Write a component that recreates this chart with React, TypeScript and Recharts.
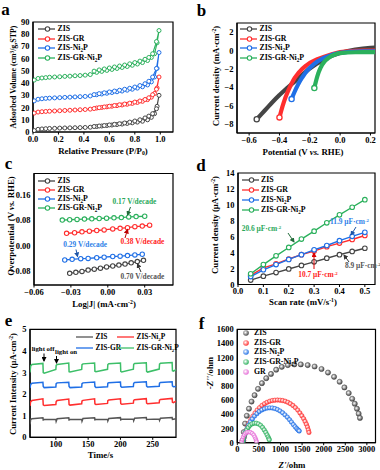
import React from "react";
import { XAxis, YAxis, ReferenceArea, ReferenceLine, ScatterChart, Scatter } from "recharts";

const SERIF = '"Liberation Serif", "Times New Roman", serif';
const GRAY = "#454545";
const RED = "#ff2e2e";
const BLUE = "#1f6fe6";
const GREEN = "#2bb05c";
const PINK = "#e56bd6";

// (a) N2 adsorption / desorption
const P_ADS = [0.01, 0.04, 0.07, 0.1, 0.13, 0.17, 0.21, 0.25, 0.29, 0.33, 0.37, 0.41, 0.45, 0.5, 0.54, 0.58, 0.62, 0.66, 0.7, 0.74, 0.78, 0.82, 0.86, 0.9, 0.93, 0.955, 0.975, 0.99];
const P_DES = [0.97, 0.94, 0.91, 0.88, 0.84, 0.8, 0.76, 0.72, 0.68, 0.64, 0.6, 0.56, 0.52, 0.48];
const ISO_ZIS_ADS = [1.2, 2.2, 2.5, 2.7, 2.9, 3.0, 3.2, 3.3, 3.4, 3.5, 3.6, 3.7, 3.9, 4.5, 4.9, 5.3, 5.7, 6.1, 6.5, 7.0, 7.5, 8.1, 8.8, 10.0, 12.0, 15.0, 21.0, 30.0];
const ISO_ZIS_DES = [19.0, 15.0, 13.0, 11.5, 10.0, 9.0, 8.1, 7.4, 6.8, 6.3, 5.8, 5.3, 4.9, 4.5];
const ISO_GR_ADS = [15.5, 16.3, 16.6, 16.8, 17.0, 17.2, 17.4, 17.6, 17.8, 18.0, 18.2, 18.4, 18.7, 19.6, 20.1, 20.6, 21.1, 21.6, 22.1, 22.7, 23.4, 24.2, 25.1, 26.5, 28.5, 31.5, 36.0, 45.0];
const ISO_GR_DES = [35.0, 30.5, 28.0, 26.6, 25.4, 24.5, 23.6, 22.9, 22.3, 21.7, 21.1, 20.5, 19.9, 19.2];
const ISO_NI_ADS = [25.5, 26.8, 27.2, 27.5, 27.7, 27.9, 28.1, 28.3, 28.5, 28.7, 28.9, 29.1, 29.5, 30.5, 31.1, 31.7, 32.3, 32.9, 33.5, 34.2, 35.0, 35.9, 37.0, 38.5, 41.0, 45.0, 52.0, 65.0];
const ISO_NI_DES = [52.0, 45.0, 41.5, 39.5, 38.0, 36.8, 35.8, 35.0, 34.2, 33.5, 32.8, 32.1, 31.4, 30.6];
const ISO_GN_ADS = [42.5, 43.8, 44.2, 44.5, 44.8, 45.0, 45.2, 45.5, 45.7, 46.0, 46.2, 46.5, 47.0, 48.8, 49.6, 50.4, 51.2, 52.0, 52.8, 53.6, 54.6, 55.6, 56.8, 58.5, 61.0, 64.0, 73.0, 83.0];
const ISO_GN_DES = [74.0, 64.0, 61.0, 59.5, 58.0, 56.8, 55.8, 54.8, 54.0, 53.2, 52.4, 51.6, 50.8, 49.8];

// (b) LSV
const LSV_ZIS_E = [-0.55, -0.525, -0.5, -0.475, -0.45, -0.425, -0.4, -0.375, -0.35, -0.325, -0.3, -0.25, -0.2, -0.15, -0.1, -0.05, 0, 0.05, 0.1, 0.15, 0.2, 0.23];
const LSV_ZIS_J = [-7.5, -7.05, -6.6, -6.15, -5.7, -5.27, -4.85, -4.47, -4.1, -3.75, -3.4, -2.65, -1.96, -1.4, -0.9, -0.55, -0.27, -0.05, 0.1, 0.2, 0.28, 0.32];
const LSV_GR_E = [-0.4, -0.39, -0.38, -0.37, -0.36, -0.35, -0.34, -0.33, -0.32, -0.31, -0.3, -0.275, -0.25, -0.225, -0.2, -0.15, -0.1, -0.05, 0, 0.05, 0.1, 0.15, 0.23];
const LSV_GR_J = [-7.3, -6.68, -6.1, -5.58, -5.1, -4.68, -4.3, -3.94, -3.6, -3.29, -3.0, -2.45, -2.0, -1.65, -1.35, -0.95, -0.65, -0.38, -0.18, -0.08, -0.04, -0.02, 0];
const LSV_NI_E = [-0.32, -0.31, -0.3, -0.29, -0.28, -0.27, -0.26, -0.25, -0.24, -0.23, -0.22, -0.21, -0.2, -0.175, -0.15, -0.125, -0.1, -0.05, 0, 0.05, 0.1, 0.15, 0.23];
const LSV_NI_J = [-5.3, -4.88, -4.5, -4.14, -3.8, -3.49, -3.2, -2.94, -2.7, -2.47, -2.25, -2.07, -1.9, -1.52, -1.2, -0.95, -0.75, -0.45, -0.25, -0.16, -0.12, -0.1, -0.1];
const LSV_GN_E = [-0.17, -0.165, -0.16, -0.155, -0.15, -0.145, -0.14, -0.13, -0.12, -0.11, -0.1, -0.09, -0.08, -0.065, -0.05, -0.02, 0, 0.05, 0.1, 0.15, 0.23];
const LSV_GN_J = [-4.1, -3.73, -3.4, -3.09, -2.8, -2.54, -2.3, -1.92, -1.6, -1.36, -1.15, -0.99, -0.85, -0.68, -0.55, -0.35, -0.28, -0.22, -0.19, -0.18, -0.17];

// (c) Tafel
const TAF_ZIS_X = [-0.031, -0.026, -0.021, -0.016, -0.011, -0.006, -0.001, 0.004, 0.009, 0.014, 0.019, 0.024, 0.029];
const TAF_ZIS_Y = [-0.087, -0.084, -0.081, -0.077, -0.074, -0.071, -0.067, -0.064, -0.061, -0.058, -0.054, -0.05, -0.046];
const TAF_GR_X = [-0.0335, -0.027, -0.021, -0.015, -0.009, -0.003, 0.004, 0.01, 0.016, 0.022, 0.028, 0.034];
const TAF_GR_Y = [0.039, 0.041, 0.044, 0.046, 0.048, 0.05, 0.053, 0.055, 0.057, 0.06, 0.062, 0.065];
const TAF_NI_X = [-0.035, -0.029, -0.022, -0.016, -0.009, -0.003, 0.004, 0.01, 0.016, 0.022, 0.028];
const TAF_NI_Y = [-0.045, -0.043, -0.041, -0.04, -0.038, -0.036, -0.034, -0.033, -0.031, -0.029, -0.027];
const TAF_GN_X = [-0.037, -0.031, -0.025, -0.019, -0.013, -0.007, -0.001, 0.005, 0.011, 0.017, 0.023, 0.03];
const TAF_GN_Y = [0.081, 0.082, 0.083, 0.084, 0.085, 0.086, 0.087, 0.088, 0.089, 0.091, 0.092, 0.093];

// (d) double-layer capacitance
const SCAN = [0.05, 0.1, 0.15, 0.2, 0.25, 0.3, 0.35, 0.4, 0.45, 0.5];
const CDL_ZIS = [0.55, 1.05, 1.5, 1.95, 2.4, 2.85, 3.3, 3.75, 4.15, 4.55];
const CDL_GR = [1.15, 2.1, 2.6, 3.2, 3.75, 4.2, 4.75, 5.2, 5.65, 6.15];
const CDL_NI = [1.0, 1.85, 2.5, 3.15, 3.75, 4.35, 4.9, 5.5, 6.05, 6.55];
const CDL_GN = [1.35, 2.5, 3.6, 4.65, 5.7, 6.7, 7.75, 8.75, 9.7, 10.65];

// (e) transient photocurrent
const T_S = [60, 61, 63, 80, 80.5, 82, 100, 100.5, 102, 120, 120.5, 122, 140, 140.5, 142, 160, 160.5, 162, 180, 180.5, 182, 200, 200.5, 202, 220, 220.5, 222, 240, 240.5, 242, 260, 260.5, 262, 280, 280.5, 282, 286];
const PC_ZIS = [0.6, 0.82, 0.86, 0.9, 0.8, 0.82, 0.83, 0.74, 0.86, 0.9, 0.8, 0.82, 0.83, 0.75, 0.87, 0.9, 0.81, 0.82, 0.84, 0.76, 0.87, 0.91, 0.81, 0.83, 0.84, 0.77, 0.88, 0.92, 0.82, 0.83, 0.85, 0.78, 0.88, 0.92, 0.83, 0.84, 0.86];
const PC_NI = [1.45, 1.65, 1.7, 1.78, 1.5, 1.47, 1.52, 1.65, 1.7, 1.77, 1.52, 1.49, 1.55, 1.68, 1.71, 1.78, 1.55, 1.52, 1.57, 1.7, 1.73, 1.78, 1.56, 1.53, 1.58, 1.71, 1.74, 1.79, 1.58, 1.55, 1.6, 1.72, 1.75, 1.8, 1.62, 1.6, 1.67];
const PC_GR = [2.28, 2.45, 2.5, 2.55, 2.35, 2.3, 2.33, 2.48, 2.52, 2.55, 2.35, 2.3, 2.33, 2.48, 2.52, 2.56, 2.36, 2.31, 2.34, 2.5, 2.53, 2.56, 2.36, 2.32, 2.35, 2.5, 2.54, 2.57, 2.37, 2.33, 2.36, 2.51, 2.54, 2.57, 2.38, 2.34, 2.35];
const PC_GN = [3.0, 3.3, 3.37, 3.42, 3.0, 2.97, 3.14, 3.33, 3.37, 3.44, 3.04, 3.02, 3.14, 3.36, 3.4, 3.44, 3.06, 3.04, 3.15, 3.37, 3.41, 3.44, 3.05, 3.02, 3.15, 3.38, 3.42, 3.45, 3.05, 3.02, 3.16, 3.39, 3.43, 3.46, 3.08, 3.06, 3.13];

// (f) Nyquist
const EIS_ZIS_RE = [120, 150, 180, 220, 270, 330, 400, 480, 570, 670, 780, 900, 1030, 1170, 1320, 1470, 1630, 1790, 1950, 2100, 2240, 2370, 2480, 2580, 2660, 2720, 2770, 2810, 2840];
const EIS_ZIS_IM = [30, 150, 270, 380, 480, 580, 670, 760, 840, 910, 970, 1030, 1070, 1095, 1105, 1105, 1095, 1075, 1040, 990, 930, 860, 780, 700, 620, 550, 480, 410, 350];
const EIS_GR_RE = [150, 165, 185, 210, 240, 275, 315, 360, 410, 460, 515, 570, 630, 690, 750, 810, 870, 930, 990, 1050, 1110, 1170, 1230, 1290, 1345, 1400, 1450, 1495, 1535, 1570, 1600, 1625, 1645, 1660];
const EIS_GR_IM = [30, 80, 130, 180, 230, 280, 330, 375, 420, 460, 495, 525, 550, 570, 585, 595, 600, 602, 600, 595, 585, 570, 550, 525, 495, 460, 420, 380, 340, 300, 260, 220, 180, 145];
const EIS_NI_RE = [140, 155, 175, 200, 230, 265, 305, 350, 400, 455, 510, 570, 630, 690, 750, 810, 870, 930, 990, 1050, 1105, 1160, 1210, 1255, 1300, 1340, 1375, 1400, 1420, 1435];
const EIS_NI_IM = [25, 70, 115, 160, 205, 250, 295, 335, 375, 410, 440, 462, 478, 488, 492, 490, 482, 468, 448, 422, 392, 360, 325, 290, 255, 225, 200, 185, 172, 165];
const EIS_GN_RE = [130, 145, 165, 190, 220, 255, 295, 340, 390, 440, 490, 540, 585, 625, 660, 690, 715, 732, 742];
const EIS_GN_IM = [20, 60, 100, 140, 180, 215, 245, 265, 275, 275, 265, 245, 215, 180, 145, 110, 80, 55, 40];
const EIS_G_RE = [100, 115, 135, 160, 190, 225, 265, 305, 345, 380, 405, 425, 438, 445];
const EIS_G_IM = [10, 45, 80, 110, 132, 146, 150, 146, 132, 110, 82, 55, 30, 12];

// tick values
const TICK_A_Y = [0, 10, 20, 30, 40, 50, 60, 70, 80, 90];
const TICK_B_Y = [-8, -6, -4, -2, 0, 2];
const TICK_C_Y = [-0.08, 0, 0.08, 0.16];
const TICK_D_Y = [0, 2, 4, 6, 8, 10, 12, 14];
const TICK_E_Y = [0, 1, 2, 3, 4, 5];
const TICK_F_Y = [0, 200, 400, 600, 800, 1000, 1200, 1400, 1600];

const pairs = (xs: number[], ys: number[]) => xs.map((x, i) => ({ x, y: ys[i] }));

const tickFont = { fontSize: 8.5, fontFamily: SERIF, fontWeight: 700, fill: "#000" };
const ax = {
  axisLine: { stroke: "#000", strokeWidth: 1.2 },
  tickLine: { stroke: "#000", strokeWidth: 1 },
  tick: tickFont,
  tickSize: 2.5,
  tickMargin: 1,
  allowDataOverflow: true,
  interval: 0 as const,
  type: "number" as const,
};

const minus = (s: string) => s.replace("-", "\u2212");

// y-axis tick labels, placed by the y scale through reference lines
const yLabels = (ticks: number[], fmt: (v: number) => string = String) =>
  ticks.map((v) => (
    <ReferenceLine key={`yl${v}`} y={v} stroke="none" ifOverflow="visible" label={{ value: fmt(v), position: "left", offset: 3.5, ...tickFont }} />
  ));

const SUB: React.CSSProperties = { fontSize: "0.65em", verticalAlign: "-0.3em", lineHeight: 0 };
const SUP: React.CSSProperties = { fontSize: "0.65em", verticalAlign: "0.45em", lineHeight: 0 };
const Ni2P = () => (
  <>
    Ni<span style={SUB}>2</span>P
  </>
);

const Txt = ({ x, y, size = 8.6, color = "#000", rot = false, left = false, children }: any) => (
  <div
    style={{
      position: "absolute",
      left: x,
      top: y,
      transform: `translate(${left ? 0 : -50}%, -50%)${rot ? " rotate(-90deg)" : ""}`,
      fontFamily: SERIF,
      fontWeight: 700,
      fontSize: size,
      color,
      whiteSpace: "nowrap",
      lineHeight: 1,
    }}
  >
    {children}
  </div>
);

const LegLine = ({ x, y, color, dot = true, w = 17, size = 7.8, children }: any) => (
  <>
    <svg style={{ position: "absolute", left: x, top: y - 4 }} width={w} height={8}>
      <line x1={0} y1={4} x2={w} y2={4} stroke={color} strokeWidth={1.3} />
      {dot && <circle cx={w / 2 + 1} cy={4} r={2.2} fill="#fff" stroke={color} strokeWidth={1.1} />}
    </svg>
    <Txt x={x + w + 2.5} y={y} size={size} left>
      {children}
    </Txt>
  </>
);

const LegBall = ({ x, y, id, children }: any) => (
  <>
    <svg style={{ position: "absolute", left: x - 4, top: y - 4 }} width={8} height={8}>
      <circle cx={4} cy={4} r={2.8} fill={`url(#${id})`} />
    </svg>
    <Txt x={x + 8} y={y} size={7.8} left>
      {children}
    </Txt>
  </>
);

const Frame = ({ xd, yd }: { xd: number[]; yd: number[] }) => (
  <ReferenceArea x1={xd[0]} x2={xd[1]} y1={yd[0]} y2={yd[1]} fill="none" stroke="#000" strokeWidth={1.2} ifOverflow="visible" />
);

const at = (left: number, top: number, el: React.ReactNode) => (
  <div style={{ position: "absolute", left, top }}>{el}</div>
);

const hollow = (c: string, r: number, sw = 1) => (p: any) => <circle cx={p.cx} cy={p.cy} r={r} fill="#fff" stroke={c} strokeWidth={sw} />;
const none = () => <g />;

type S = { k: string; c: string; d: { x: number; y: number }[] };

function PanelA() {
  const xd = [0, 1.1];
  const yd = [0, 90];
  const loop = (ads: number[], des: number[]) => [...pairs(P_ADS, ads), ...pairs(P_DES, des)];
  const series: S[] = [
    { k: "zis", c: GRAY, d: loop(ISO_ZIS_ADS, ISO_ZIS_DES) },
    { k: "gr", c: RED, d: loop(ISO_GR_ADS, ISO_GR_DES) },
    { k: "ni", c: BLUE, d: loop(ISO_NI_ADS, ISO_NI_DES) },
    { k: "gn", c: GREEN, d: loop(ISO_GN_ADS, ISO_GN_DES) },
  ];
  return at(
    0,
    0,
    <ScatterChart width={180} height={160} margin={{ top: 22, right: 7, left: 0, bottom: 0 }}>
      <XAxis dataKey="x" domain={xd} ticks={[0, 0.2, 0.4, 0.6, 0.8, 1.0]} tickFormatter={(v: number) => v.toFixed(1)} height={28} {...ax} />
      <YAxis dataKey="y" domain={yd} ticks={TICK_A_Y} width={33} {...ax} tick={false} />
      <Frame xd={xd} yd={yd} />
      {yLabels(TICK_A_Y)}
      {series.map((s) => (
        <Scatter key={s.k} data={s.d} line={{ stroke: s.c, strokeWidth: 1.1 }} shape={hollow(s.c, 2)} isAnimationActive={false} />
      ))}
    </ScatterChart>
  );
}

function PanelB() {
  const xd = [-0.68, 0.23];
  const yd = [-9, 3];
  const series: S[] = [
    { k: "zis", c: GRAY, d: pairs(LSV_ZIS_E, LSV_ZIS_J) },
    { k: "gr", c: RED, d: pairs(LSV_GR_E, LSV_GR_J) },
    { k: "ni", c: BLUE, d: pairs(LSV_NI_E, LSV_NI_J) },
    { k: "gn", c: GREEN, d: pairs(LSV_GN_E, LSV_GN_J) },
  ];
  return at(
    190,
    0,
    <ScatterChart width={190} height={160} margin={{ top: 23, right: 5, left: 0, bottom: 0 }}>
      <XAxis dataKey="x" domain={xd} ticks={[-0.6, -0.4, -0.2, 0, 0.2]} tickFormatter={(v: number) => minus(v.toFixed(1))} height={27} {...ax} />
      <YAxis dataKey="y" domain={yd} ticks={TICK_B_Y} width={47} {...ax} tick={false} />
      <Frame xd={xd} yd={yd} />
      {yLabels(TICK_B_Y, (v) => minus(String(v)))}
      {series.map((s) => (
        <Scatter key={s.k} data={s.d} line={{ stroke: s.c, strokeWidth: 4.2, strokeLinejoin: "round", strokeLinecap: "round" }} shape={none} isAnimationActive={false} />
      ))}
      {series.map((s) => (
        <Scatter key={s.k + "-end"} data={s.d.slice(0, 1)} shape={hollow(s.c, 2.6, 1.3)} isAnimationActive={false} />
      ))}
    </ScatterChart>
  );
}

function PanelC() {
  const xd = [-0.06, 0.053];
  const yd = [-0.124, 0.228];
  const series: S[] = [
    { k: "zis", c: GRAY, d: pairs(TAF_ZIS_X, TAF_ZIS_Y) },
    { k: "gr", c: RED, d: pairs(TAF_GR_X, TAF_GR_Y) },
    { k: "ni", c: BLUE, d: pairs(TAF_NI_X, TAF_NI_Y) },
    { k: "gn", c: GREEN, d: pairs(TAF_GN_X, TAF_GN_Y) },
  ];
  return at(
    0,
    150,
    <ScatterChart width={180} height={160} margin={{ top: 23.5, right: 7, left: 0, bottom: 0 }}>
      <XAxis dataKey="x" domain={xd} ticks={[-0.06, -0.03, 0, 0.03]} tickFormatter={(v: number) => minus(v.toFixed(2))} height={25} {...ax} />
      <YAxis dataKey="y" domain={yd} ticks={TICK_C_Y} width={34} {...ax} tick={false} />
      <Frame xd={xd} yd={yd} />
      {yLabels(TICK_C_Y, (v) => minus(v.toFixed(2)))}
      {series.map((s) => (
        <Scatter key={s.k} data={s.d} line={{ stroke: s.c, strokeWidth: 1.3 }} shape={hollow(s.c, 2.2, 1.1)} isAnimationActive={false} />
      ))}
    </ScatterChart>
  );
}

function PanelD() {
  const xd = [0, 0.54];
  const yd = [0, 14];
  const series: S[] = [
    { k: "zis", c: GRAY, d: pairs(SCAN, CDL_ZIS) },
    { k: "gr", c: RED, d: pairs(SCAN, CDL_GR) },
    { k: "ni", c: BLUE, d: pairs(SCAN, CDL_NI) },
    { k: "gn", c: GREEN, d: pairs(SCAN, CDL_GN) },
  ];
  return at(
    190,
    150,
    <ScatterChart width={190} height={160} margin={{ top: 23, right: 5, left: 0, bottom: 0 }}>
      <XAxis dataKey="x" domain={xd} ticks={[0, 0.1, 0.2, 0.3, 0.4, 0.5]} tickFormatter={(v: number) => v.toFixed(1)} height={25.5} {...ax} />
      <YAxis dataKey="y" domain={yd} ticks={TICK_D_Y} width={48} {...ax} tick={false} />
      <Frame xd={xd} yd={yd} />
      {yLabels(TICK_D_Y)}
      {series.map((s) => (
        <Scatter key={s.k} data={s.d} line={{ stroke: s.c, strokeWidth: 1.4 }} shape={hollow(s.c, 2.3, 1.1)} isAnimationActive={false} />
      ))}
    </ScatterChart>
  );
}

function PanelE() {
  const xd = [60, 286];
  const yd = [0, 5];
  const series: S[] = [
    { k: "zis", c: "#555", d: pairs(T_S, PC_ZIS) },
    { k: "ni", c: RED, d: pairs(T_S, PC_NI) },
    { k: "gr", c: BLUE, d: pairs(T_S, PC_GR) },
    { k: "gn", c: "#3cbf68", d: pairs(T_S, PC_GN) },
  ];
  return at(
    0,
    310,
    <ScatterChart width={180} height={160} margin={{ top: 19.3, right: 4, left: 0, bottom: 0 }}>
      <XAxis dataKey="x" domain={xd} ticks={[100, 150, 200, 250]} height={32.7} {...ax} />
      <YAxis dataKey="y" domain={yd} ticks={TICK_E_Y} width={30} {...ax} tick={false} />
      <Frame xd={xd} yd={yd} />
      {yLabels(TICK_E_Y)}
      {series.map((s) => (
        <Scatter key={s.k} data={s.d} line={{ stroke: s.c, strokeWidth: 1.5 }} shape={none} isAnimationActive={false} />
      ))}
    </ScatterChart>
  );
}

function PanelF() {
  const xd = [0, 3200];
  const yd = [0, 1600];
  const series = [
    { k: "zis", c: GRAY, g: "gZis", r: 2.6, d: pairs(EIS_ZIS_RE, EIS_ZIS_IM) },
    { k: "gr", c: RED, g: "gGr", r: 2.2, d: pairs(EIS_GR_RE, EIS_GR_IM) },
    { k: "ni", c: BLUE, g: "gNi", r: 2.2, d: pairs(EIS_NI_RE, EIS_NI_IM) },
    { k: "gn", c: GREEN, g: "gGn", r: 2.2, d: pairs(EIS_GN_RE, EIS_GN_IM) },
    { k: "g", c: PINK, g: "gG", r: 2.0, d: pairs(EIS_G_RE, EIS_G_IM) },
  ];
  return at(
    190,
    310,
    <ScatterChart width={190} height={160} margin={{ top: 19.3, right: 4.5, left: 0, bottom: 0 }}>
      <XAxis dataKey="x" domain={xd} ticks={[0, 500, 1000, 1500, 2000, 2500, 3000]} height={27.3} {...ax} />
      <YAxis dataKey="y" domain={yd} ticks={TICK_F_Y} width={47.3} {...ax} tick={false} />
      <Frame xd={xd} yd={yd} />
      {yLabels(TICK_F_Y)}
      {series.map((s) => (
        <Scatter
          key={s.k}
          data={s.d}
          isAnimationActive={false}
          shape={(p: any) => <circle cx={p.cx} cy={p.cy} r={s.r} fill={`url(#${s.g})`} stroke={s.c} strokeWidth={0.5} />}
        />
      ))}
    </ScatterChart>
  );
}

// annotation arrows: [x1, y1, x2, y2, colour]
const ARROWS: [number, number, number, number, string][] = [
  [130.5, 207, 127.5, 215, "#226b3a"],
  [125, 238, 127.5, 229.5, "#b00"],
  [76, 249.5, 77.5, 256.5, "#1d55a8"],
  [141, 272, 137.5, 264, "#333"],
  [288, 233, 294, 242, "#226b3a"],
  [314, 269, 314, 253, "#d00"],
  [356, 227, 351, 235, "#1d55a8"],
  [349, 262, 344, 255, "#333"],
  [44, 353.5, 44, 361, "#000"],
  [56.5, 356, 56.5, 363, "#000"],
];

const ballGrad = (id: string, c: string) => (
  <radialGradient id={id} cx="40%" cy="40%" r="60%">
    <stop offset="0%" stopColor="#fff" />
    <stop offset="100%" stopColor={c} />
  </radialGradient>
);

export default function App() {
  const ann = 7.4;
  return (
    <div style={{ position: "absolute", left: 0, top: 0, width: 380, height: 470, background: "#fff", overflow: "hidden", fontFamily: SERIF }}>
      <svg width={0} height={0} style={{ position: "absolute" }}>
        <defs>
          {ballGrad("gZis", GRAY)}
          {ballGrad("gGr", RED)}
          {ballGrad("gNi", BLUE)}
          {ballGrad("gGn", GREEN)}
          {ballGrad("gG", PINK)}
        </defs>
      </svg>
      <PanelA />
      <PanelB />
      <PanelC />
      <PanelD />
      <PanelE />
      <PanelF />

      {/* panel letters */}
      <Txt x={5.5} y={9} size={17}>a</Txt>
      <Txt x={201.5} y={10} size={17}>b</Txt>
      <Txt x={8.5} y={163} size={17}>c</Txt>
      <Txt x={201} y={165} size={17}>d</Txt>
      <Txt x={8.5} y={319.5} size={17}>e</Txt>
      <Txt x={201.5} y={323} size={17}>f</Txt>

      {/* axis titles */}
      <Txt x={14} y={77} size={7.9} rot>Adsorbed Volume (cm<span style={SUP}>3</span>/g,STP)</Txt>
      <Txt x={103} y={150.5} size={8.8}>Relative Pressure (P/P<span style={SUB}>0</span>)</Txt>
      <Txt x={216} y={76} size={8.8} rot>Current density (mA·cm<span style={SUP}>-2</span>)</Txt>
      <Txt x={303} y={152} size={8.8}>Potential (V <i>vs.</i> RHE)</Txt>
      <Txt x={11} y={226} size={8.8} rot>Overpotential (V <i>vs.</i> RHE)</Txt>
      <Txt x={104} y={304} size={8.8}>Log|J| (mA·cm<span style={SUP}>-2</span>)</Txt>
      <Txt x={215} y={225} size={8.8} rot>Current density (μA·cm<span style={SUP}>-2</span>)</Txt>
      <Txt x={303} y={302} size={8.8}>Scan rate (mV/s<span style={SUP}>-1</span>)</Txt>
      <Txt x={12.5} y={384} size={8.6} rot>Current Intensity (μA·cm<span style={SUP}>-2</span>)</Txt>
      <Txt x={100.5} y={455} size={8.8}>Time/s</Txt>
      <Txt x={210} y={373} size={8.8} rot>-<i>Z''</i>/ohm</Txt>
      <Txt x={292} y={465} size={8.8}><i>Z'</i>/ohm</Txt>

      {/* legends */}
      <LegLine x={38} y={29} color={GRAY}>ZIS</LegLine>
      <LegLine x={38} y={38.7} color={RED}>ZIS-GR</LegLine>
      <LegLine x={38} y={48.3} color={BLUE}>ZIS-<Ni2P /></LegLine>
      <LegLine x={38} y={58.3} color={GREEN}>ZIS-GR-<Ni2P /></LegLine>

      <LegLine x={240} y={29} color={GRAY}>ZIS</LegLine>
      <LegLine x={240} y={38.5} color={RED}>ZIS-GR</LegLine>
      <LegLine x={240} y={48.3} color={BLUE}>ZIS-<Ni2P /></LegLine>
      <LegLine x={240} y={57.7} color={GREEN}>ZIS-GR-<Ni2P /></LegLine>

      <LegLine x={38} y={180.7} color={GRAY}>ZIS</LegLine>
      <LegLine x={38} y={189.5} color={RED}>ZIS-GR</LegLine>
      <LegLine x={38} y={199.3} color={BLUE}>ZIS-<Ni2P /></LegLine>
      <LegLine x={38} y={208.3} color={GREEN}>ZIS-GR-<Ni2P /></LegLine>

      <LegLine x={241.5} y={179.7} color={GRAY}>ZIS</LegLine>
      <LegLine x={241.5} y={189.7} color={RED}>ZIS-GR</LegLine>
      <LegLine x={241.5} y={199.7} color={BLUE}>ZIS-<Ni2P /></LegLine>
      <LegLine x={241.5} y={209.7} color={GREEN}>ZIS-GR-<Ni2P /></LegLine>

      <LegLine x={76} y={336.7} color="#555" dot={false} size={7.4}>ZIS</LegLine>
      <LegLine x={117} y={336.7} color={RED} dot={false} size={7.4}>ZIS-<Ni2P /></LegLine>
      <LegLine x={76} y={347.7} color={BLUE} dot={false} size={7.4}>ZIS-GR</LegLine>
      <LegLine x={117} y={347.7} color="#3cbf68" dot={false} size={7.4}>ZIS-GR-<Ni2P /></LegLine>

      <LegBall x={246} y={333.3} id="gZis">ZIS</LegBall>
      <LegBall x={246} y={342.7} id="gGr">ZIS-GR</LegBall>
      <LegBall x={246} y={352.3} id="gNi">ZIS-<Ni2P /></LegBall>
      <LegBall x={246} y={361.7} id="gGn">ZIS-GR-<Ni2P /></LegBall>
      <LegBall x={246} y={371.5} id="gG">GR</LegBall>

      {/* annotations */}
      <Txt x={112.5} y={202.3} size={ann} color="#2aa85a" left>0.17 V/decade</Txt>
      <Txt x={120.5} y={241.7} size={ann} color="#f22" left>0.38 V/decade</Txt>
      <Txt x={63.3} y={245} size={ann} color="#2f7fe8" left>0.29 V/decade</Txt>
      <Txt x={120.5} y={277.3} size={ann} color="#555" left>0.70 V/decade</Txt>

      <Txt x={241.7} y={229} size={ann} color="#2aa85a" left>20.6 μF·cm<span style={SUP}>-2</span></Txt>
      <Txt x={330} y={222} size={ann} color="#2f7fe8" left>11.9 μF·cm<span style={SUP}>-2</span></Txt>
      <Txt x={298.3} y={275.3} size={ann} color="#f22" left>10.7 μF·cm<span style={SUP}>-2</span></Txt>
      <Txt x={345} y={265.7} size={ann} color="#555" left>8.9 μF·cm<span style={SUP}>-2</span></Txt>

      <Txt x={31.7} y={349} size={6.8} left>light off</Txt>
      <Txt x={55} y={351.7} size={6.8} left>light on</Txt>

      <svg width={380} height={470} style={{ position: "absolute", left: 0, top: 0, pointerEvents: "none" }}>
        <defs>
          {ARROWS.map((a, i) => (
            <marker key={i} id={`ah${i}`} markerUnits="userSpaceOnUse" markerWidth={5} markerHeight={5} refX={4} refY={2.5} orient="auto">
              <path d="M0,0 L5,2.5 L0,5 z" fill={a[4]} />
            </marker>
          ))}
        </defs>
        {ARROWS.map((a, i) => (
          <line key={i} x1={a[0]} y1={a[1]} x2={a[2]} y2={a[3]} stroke={a[4]} strokeWidth={1} markerEnd={`url(#ah${i})`} />
        ))}
      </svg>
    </div>
  );
}
